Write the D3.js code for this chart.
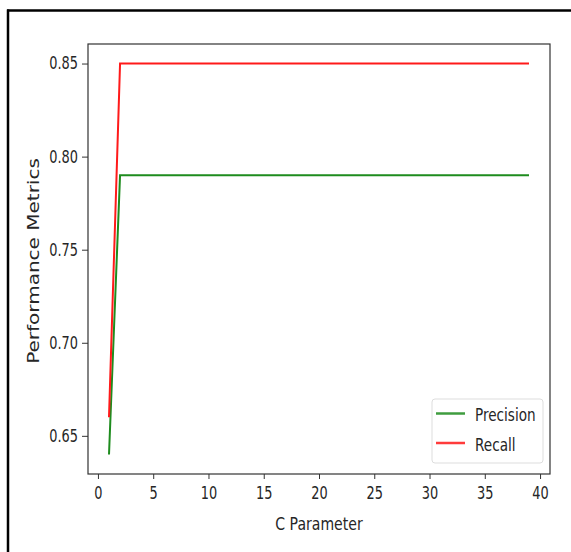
<!DOCTYPE html>
<html>
<head>
<meta charset="utf-8">
<script src="https://cdn.jsdelivr.net/npm/d3@7"></script>
<style>
  body { margin: 0; background: #fff; }
  text { fill: #262626; font-family: "DejaVu Sans", sans-serif; }
  .tick text { font-size: 17px; }
</style>
</head>
<body>
<svg id="chart"></svg>
<script>
// C values tried
var cValues = [1,2,3,4,5,6,7,8,9,10,11,12,13,14,15,16,17,18,19,20,
               21,22,23,24,25,26,27,28,29,30,31,32,33,34,35,36,37,38,39]
var precision = [0.64,0.79,0.79,0.79,0.79,0.79,0.79,0.79,0.79,0.79,
                 0.79,0.79,0.79,0.79,0.79,0.79,0.79,0.79,0.79,0.79,
                 0.79,0.79,0.79,0.79,0.79,0.79,0.79,0.79,0.79,0.79,
                 0.79,0.79,0.79,0.79,0.79,0.79,0.79,0.79,0.79]
var recall = [0.66,0.85,0.85,0.85,0.85,0.85,0.85,0.85,0.85,0.85,
              0.85,0.85,0.85,0.85,0.85,0.85,0.85,0.85,0.85,0.85,
              0.85,0.85,0.85,0.85,0.85,0.85,0.85,0.85,0.85,0.85,
              0.85,0.85,0.85,0.85,0.85,0.85,0.85,0.85,0.85]
var xTicks = [0,5,10,15,20,25,30,35,40]
var yTicks = [0.65,0.70,0.75,0.80,0.85]
var seriesNames = ["Precision","Recall"]
var seriesColors = ["#1e8c1e","#ff1a1a"]

var screen = {width:571, height:552}
var margins = {top:44, right:21, bottom:78, left:88}
var width = screen.width - margins.left - margins.right
var height = screen.height - margins.top - margins.bottom
var squeeze = 0.76   // the picture's text is narrow

var svg = d3.select("#chart")
    .attr("width",screen.width)
    .attr("height",screen.height)

// outer frame (top + left edges only)
svg.append("line").attr("x1",7).attr("x2",screen.width).attr("y1",10.5).attr("y2",10.5)
    .attr("stroke","#000").attr("stroke-width",2.5)
svg.append("line").attr("x1",8).attr("x2",8).attr("y1",9.5).attr("y2",screen.height)
    .attr("stroke","#000").attr("stroke-width",2.5)

var g = svg.append("g")
    .attr("transform","translate("+margins.left+","+margins.top+")")

// matplotlib style 5% margins
var xScale = d3.scaleLinear().domain([-0.9,40.9]).range([0,width])
var yScale = d3.scaleLinear().domain([0.6295,0.8605]).range([height,0])

var xAxis = d3.axisBottom(xScale).tickValues(xTicks).tickSize(5).tickPadding(8)
var yAxis = d3.axisLeft(yScale).tickValues(yTicks).tickSize(6).tickPadding(4)
    .tickFormat(d3.format(".2f"))

g.append("g").attr("transform","translate(0,"+height+")").call(xAxis)
    .selectAll(".tick text").attr("transform","scale("+squeeze+",1)")
g.append("g").call(yAxis)
    .selectAll(".tick text").attr("x",0).attr("transform","translate(-10,0) scale("+squeeze+",1)")
g.selectAll(".domain").remove()
g.selectAll(".tick line").attr("stroke","#333")

var line = d3.line()
    .x(function(d,i){ return xScale(cValues[i]) })
    .y(function(d){ return yScale(d) })

g.append("path").datum(precision)
    .attr("d",line).attr("fill","none")
    .attr("stroke",seriesColors[0]).attr("stroke-width",2)
g.append("path").datum(recall)
    .attr("d",line).attr("fill","none")
    .attr("stroke",seriesColors[1]).attr("stroke-width",2)

// axes frame
g.append("rect").attr("x",0).attr("y",0).attr("width",width).attr("height",height)
    .attr("fill","none").attr("stroke","#333").attr("stroke-width",1.2)

// legend
var legend = g.append("g").attr("transform","translate("+(width-118)+","+(height-75)+")")
legend.append("rect").attr("x",0).attr("y",0).attr("width",111).attr("height",64)
    .attr("rx",3).attr("fill","#fff").attr("fill-opacity",0.8)
    .attr("stroke","#ddd").attr("stroke-width",1)
seriesNames.forEach(function(name,i)
{
    legend.append("line").attr("x1",4).attr("x2",33)
        .attr("y1",14.5+i*29.5).attr("y2",14.5+i*29.5)
        .attr("stroke",seriesColors[i]).attr("stroke-width",2.5).attr("opacity",0.85)
    legend.append("text")
        .attr("transform","translate(43,"+(22+i*29.5)+") scale(0.8,1)")
        .style("font-size","17px")
        .text(name)
})

// axis labels
svg.append("text")
    .attr("transform","translate("+(margins.left+width/2)+",530) scale("+squeeze+",1)")
    .attr("text-anchor","middle")
    .style("font-size","18.5px")
    .text("C Parameter")
svg.append("text")
    .attr("transform","translate(38.5,"+(margins.top+height/2+2)+") scale(0.8,1) rotate(-90)")
    .attr("text-anchor","middle")
    .style("font-size","20px")
    .text("Performance Metrics")
</script>
</body>
</html>
